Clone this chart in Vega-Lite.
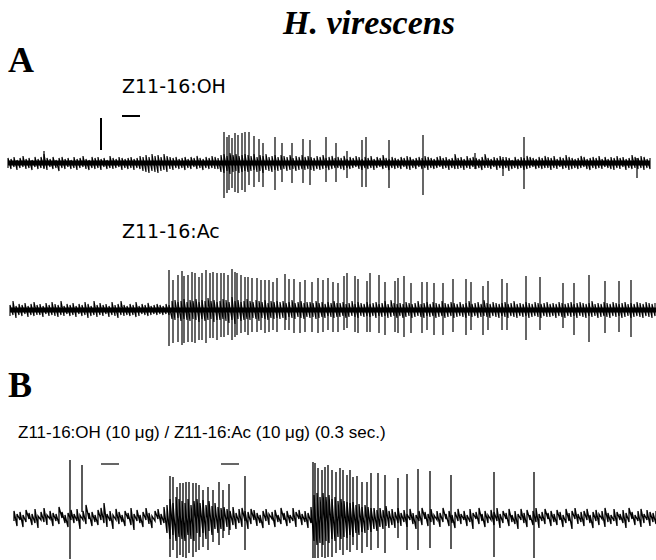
{
"$schema": "https://vega.github.io/schema/vega-lite/v6.json",
"background": "white",
"padding": 0,
"spacing": 0,
"config": {"view": {"stroke": null}, "concat": {"spacing": 0}},
"datasets": {
"a1n": [
{"t":0,"lo":-5,"hi":5},{"t":3,"lo":-6,"hi":4},{"t":6,"lo":-4,"hi":6},{"t":9,"lo":-7,"hi":3},{"t":12,"lo":-5,"hi":5},{"t":15,"lo":-4,"hi":7},{"t":18,"lo":-6,"hi":4},{"t":21,"lo":-5,"hi":5},{"t":24,"lo":-7,"hi":3},{"t":27,"lo":-4,"hi":6},
{"t":30,"lo":-6,"hi":4},{"t":33,"lo":-5,"hi":6},{"t":36,"lo":-5,"hi":9},{"t":39,"lo":-7,"hi":5},{"t":42,"lo":-4,"hi":4},{"t":45,"lo":-6,"hi":6},{"t":48,"lo":-5,"hi":3},{"t":51,"lo":-8,"hi":5},{"t":54,"lo":-5,"hi":6},{"t":57,"lo":-6,"hi":4},
{"t":60,"lo":-4,"hi":5},{"t":63,"lo":-6,"hi":3},{"t":66,"lo":-5,"hi":6},{"t":69,"lo":-7,"hi":4},{"t":72,"lo":-5,"hi":5},{"t":75,"lo":-4,"hi":7},{"t":78,"lo":-6,"hi":4},{"t":81,"lo":-7,"hi":3},{"t":84,"lo":-5,"hi":6},{"t":87,"lo":-6,"hi":5},
{"t":90,"lo":-5,"hi":6},{"t":93,"lo":-7,"hi":4},{"t":96,"lo":-4,"hi":5},{"t":99,"lo":-6,"hi":3},{"t":102,"lo":-5,"hi":7},{"t":105,"lo":-6,"hi":5},{"t":108,"lo":-5,"hi":4},{"t":111,"lo":-4,"hi":6},{"t":114,"lo":-7,"hi":5},{"t":117,"lo":-5,"hi":4},
{"t":120,"lo":-6,"hi":5},{"t":123,"lo":-5,"hi":6},{"t":126,"lo":-7,"hi":4},{"t":129,"lo":-5,"hi":5},{"t":132,"lo":-6,"hi":7},{"t":135,"lo":-8,"hi":6},{"t":138,"lo":-9,"hi":8},{"t":141,"lo":-10,"hi":6},{"t":144,"lo":-8,"hi":9},{"t":147,"lo":-9,"hi":7},
{"t":150,"lo":-10,"hi":8},{"t":153,"lo":-8,"hi":6},{"t":156,"lo":-7,"hi":9},{"t":159,"lo":-9,"hi":7},{"t":162,"lo":-6,"hi":6},{"t":165,"lo":-7,"hi":5},{"t":168,"lo":-5,"hi":6},{"t":171,"lo":-6,"hi":4},{"t":174,"lo":-5,"hi":5},{"t":177,"lo":-7,"hi":6},
{"t":180,"lo":-5,"hi":4},{"t":183,"lo":-6,"hi":6},{"t":186,"lo":-4,"hi":5},{"t":189,"lo":-6,"hi":7},{"t":192,"lo":-5,"hi":5},{"t":195,"lo":-7,"hi":4},{"t":198,"lo":-5,"hi":6},{"t":201,"lo":-6,"hi":5},{"t":204,"lo":-5,"hi":7},{"t":207,"lo":-6,"hi":6},
{"t":210,"lo":-6,"hi":5},{"t":213,"lo":-9,"hi":8},{"t":216,"lo":-10,"hi":9},{"t":219,"lo":-8,"hi":7},{"t":222,"lo":-11,"hi":10},{"t":225,"lo":-9,"hi":8},{"t":228,"lo":-8,"hi":9},{"t":231,"lo":-10,"hi":7},{"t":234,"lo":-9,"hi":8},{"t":237,"lo":-8,"hi":9},
{"t":240,"lo":-9,"hi":8},{"t":243,"lo":-8,"hi":7},{"t":246,"lo":-7,"hi":9},{"t":249,"lo":-9,"hi":6},{"t":252,"lo":-8,"hi":8},{"t":255,"lo":-10,"hi":7},{"t":258,"lo":-7,"hi":9},{"t":261,"lo":-8,"hi":6},{"t":264,"lo":-9,"hi":7},{"t":267,"lo":-7,"hi":8},
{"t":270,"lo":-8,"hi":6},{"t":273,"lo":-7,"hi":8},{"t":276,"lo":-6,"hi":7},{"t":279,"lo":-8,"hi":6},{"t":282,"lo":-7,"hi":8},{"t":285,"lo":-6,"hi":5},{"t":288,"lo":-8,"hi":7},{"t":291,"lo":-7,"hi":6},{"t":294,"lo":-6,"hi":8},{"t":297,"lo":-7,"hi":6},
{"t":300,"lo":-6,"hi":7},{"t":303,"lo":-7,"hi":6},{"t":306,"lo":-8,"hi":5},{"t":309,"lo":-6,"hi":7},{"t":312,"lo":-7,"hi":6},{"t":315,"lo":-6,"hi":8},{"t":318,"lo":-5,"hi":5},{"t":321,"lo":-7,"hi":6},{"t":324,"lo":-6,"hi":7},{"t":327,"lo":-5,"hi":5},
{"t":330,"lo":-5,"hi":6},{"t":333,"lo":-6,"hi":5},{"t":336,"lo":-7,"hi":7},{"t":339,"lo":-5,"hi":4},{"t":342,"lo":-6,"hi":6},{"t":345,"lo":-5,"hi":5},{"t":348,"lo":-4,"hi":7},{"t":351,"lo":-6,"hi":6},{"t":354,"lo":-7,"hi":4},{"t":357,"lo":-5,"hi":6},
{"t":360,"lo":-6,"hi":5},{"t":363,"lo":-5,"hi":7},{"t":366,"lo":-7,"hi":4},{"t":369,"lo":-5,"hi":6},{"t":372,"lo":-4,"hi":5},{"t":375,"lo":-6,"hi":8},{"t":378,"lo":-5,"hi":5},{"t":381,"lo":-7,"hi":4},{"t":384,"lo":-5,"hi":6},{"t":387,"lo":-6,"hi":5},
{"t":390,"lo":-5,"hi":4},{"t":393,"lo":-6,"hi":6},{"t":396,"lo":-4,"hi":5},{"t":399,"lo":-6,"hi":7},{"t":402,"lo":-7,"hi":6},{"t":405,"lo":-5,"hi":4},{"t":408,"lo":-6,"hi":5},{"t":411,"lo":-4,"hi":6},{"t":414,"lo":-6,"hi":5},{"t":417,"lo":-5,"hi":7},
{"t":420,"lo":-7,"hi":6},{"t":423,"lo":-5,"hi":5},{"t":426,"lo":-6,"hi":4},{"t":429,"lo":-5,"hi":6},{"t":432,"lo":-4,"hi":7},{"t":435,"lo":-6,"hi":5},{"t":438,"lo":-5,"hi":6},{"t":441,"lo":-7,"hi":4},{"t":444,"lo":-5,"hi":5},{"t":447,"lo":-6,"hi":9},
{"t":450,"lo":-6,"hi":5},{"t":453,"lo":-5,"hi":6},{"t":456,"lo":-7,"hi":4},{"t":459,"lo":-5,"hi":7},{"t":462,"lo":-6,"hi":5},{"t":465,"lo":-4,"hi":6},{"t":468,"lo":-6,"hi":5},{"t":471,"lo":-5,"hi":4},{"t":474,"lo":-7,"hi":6},{"t":477,"lo":-5,"hi":9},
{"t":480,"lo":-5,"hi":5},{"t":483,"lo":-6,"hi":4},{"t":486,"lo":-4,"hi":6},{"t":489,"lo":-7,"hi":5},{"t":492,"lo":-5,"hi":7},{"t":495,"lo":-6,"hi":4},{"t":498,"lo":-5,"hi":6},{"t":501,"lo":-8,"hi":5},{"t":504,"lo":-6,"hi":3},{"t":507,"lo":-5,"hi":6},
{"t":510,"lo":-6,"hi":4},{"t":513,"lo":-5,"hi":6},{"t":516,"lo":-7,"hi":5},{"t":519,"lo":-6,"hi":7},{"t":522,"lo":-5,"hi":6},{"t":525,"lo":-4,"hi":5},{"t":528,"lo":-6,"hi":4},{"t":531,"lo":-5,"hi":6},{"t":534,"lo":-6,"hi":5},{"t":537,"lo":-5,"hi":7},
{"t":540,"lo":-5,"hi":6},{"t":543,"lo":-7,"hi":5},{"t":546,"lo":-5,"hi":7},{"t":549,"lo":-6,"hi":4},{"t":552,"lo":-4,"hi":6},{"t":555,"lo":-6,"hi":5},{"t":558,"lo":-5,"hi":8},{"t":561,"lo":-7,"hi":6},{"t":564,"lo":-6,"hi":5},{"t":567,"lo":-5,"hi":4},
{"t":570,"lo":-6,"hi":5},{"t":573,"lo":-5,"hi":7},{"t":576,"lo":-4,"hi":6},{"t":579,"lo":-6,"hi":4},{"t":582,"lo":-7,"hi":5},{"t":585,"lo":-5,"hi":6},{"t":588,"lo":-6,"hi":5},{"t":591,"lo":-5,"hi":7},{"t":594,"lo":-6,"hi":4},{"t":597,"lo":-4,"hi":6},
{"t":600,"lo":-5,"hi":4},{"t":603,"lo":-6,"hi":6},{"t":606,"lo":-7,"hi":5},{"t":609,"lo":-5,"hi":7},{"t":612,"lo":-6,"hi":5},{"t":615,"lo":-4,"hi":6},{"t":618,"lo":-7,"hi":4},{"t":621,"lo":-5,"hi":5},{"t":624,"lo":-6,"hi":8},{"t":627,"lo":-5,"hi":6},
{"t":630,"lo":-6,"hi":5},{"t":633,"lo":-5,"hi":7},{"t":636,"lo":-7,"hi":6},{"t":639,"lo":-5,"hi":4},{"t":642,"lo":-6,"hi":5}
],
"a1s": [
{"t":36,"lo":-6,"hi":12},{"t":216,"lo":-35,"hi":31},{"t":219,"lo":-30,"hi":26},{"t":221,"lo":-27,"hi":28},{"t":224,"lo":-25,"hi":25},{"t":227,"lo":-29,"hi":30},{"t":230,"lo":-30,"hi":28},{"t":234,"lo":-27,"hi":30},{"t":237,"lo":-29,"hi":31},{"t":241,"lo":-22,"hi":31},{"t":246,"lo":-24,"hi":27},{"t":251,"lo":-19,"hi":24},{"t":255,"lo":-24,"hi":20},{"t":267,"lo":-27,"hi":26},{"t":274,"lo":-19,"hi":20},{"t":284,"lo":-20,"hi":20},{"t":295,"lo":-20,"hi":24},{"t":302,"lo":-22,"hi":23},{"t":318,"lo":-19,"hi":26},{"t":328,"lo":-19,"hi":20},{"t":339,"lo":-15,"hi":12},{"t":354,"lo":-24,"hi":23},{"t":358,"lo":-24,"hi":26},{"t":381,"lo":-25,"hi":23},{"t":415,"lo":-32,"hi":28},{"t":467,"lo":-6,"hi":10},{"t":495,"lo":-13,"hi":6},{"t":516,"lo":-26,"hi":26},{"t":629,"lo":-15,"hi":5}
],
"a2n": [
{"t":2,"lo":-6,"hi":5},{"t":5,"lo":-5,"hi":9},{"t":8,"lo":-8,"hi":4},{"t":11,"lo":-5,"hi":6},{"t":14,"lo":-6,"hi":5},{"t":17,"lo":-4,"hi":7},{"t":20,"lo":-7,"hi":4},{"t":23,"lo":-5,"hi":6},{"t":26,"lo":-6,"hi":8},{"t":29,"lo":-5,"hi":5},
{"t":32,"lo":-5,"hi":6},{"t":35,"lo":-7,"hi":4},{"t":38,"lo":-4,"hi":7},{"t":41,"lo":-6,"hi":5},{"t":44,"lo":-5,"hi":8},{"t":47,"lo":-6,"hi":6},{"t":50,"lo":-7,"hi":5},{"t":53,"lo":-5,"hi":9},{"t":56,"lo":-6,"hi":4},{"t":59,"lo":-4,"hi":6},
{"t":62,"lo":-6,"hi":5},{"t":65,"lo":-5,"hi":7},{"t":68,"lo":-7,"hi":4},{"t":71,"lo":-4,"hi":6},{"t":74,"lo":-6,"hi":5},{"t":77,"lo":-5,"hi":8},{"t":80,"lo":-8,"hi":6},{"t":83,"lo":-6,"hi":4},{"t":86,"lo":-5,"hi":9},{"t":89,"lo":-7,"hi":5},
{"t":92,"lo":-5,"hi":7},{"t":95,"lo":-6,"hi":5},{"t":98,"lo":-4,"hi":6},{"t":101,"lo":-7,"hi":4},{"t":104,"lo":-5,"hi":8},{"t":107,"lo":-6,"hi":5},{"t":110,"lo":-8,"hi":6},{"t":113,"lo":-5,"hi":9},{"t":116,"lo":-6,"hi":5},{"t":119,"lo":-5,"hi":4},
{"t":122,"lo":-6,"hi":6},{"t":125,"lo":-5,"hi":5},{"t":128,"lo":-7,"hi":8},{"t":131,"lo":-6,"hi":4},{"t":134,"lo":-4,"hi":6},{"t":137,"lo":-5,"hi":5},{"t":140,"lo":-6,"hi":7},{"t":143,"lo":-5,"hi":4},{"t":146,"lo":-4,"hi":5},{"t":149,"lo":-5,"hi":6},
{"t":152,"lo":-4,"hi":5},{"t":155,"lo":-5,"hi":4},{"t":158,"lo":-4,"hi":6},{"t":161,"lo":-5,"hi":5},{"t":164,"lo":-9,"hi":9},{"t":167,"lo":-10,"hi":10},{"t":170,"lo":-8,"hi":8},{"t":173,"lo":-11,"hi":9},{"t":176,"lo":-9,"hi":11},{"t":179,"lo":-10,"hi":8},
{"t":182,"lo":-11,"hi":10},{"t":185,"lo":-9,"hi":9},{"t":188,"lo":-10,"hi":11},{"t":191,"lo":-12,"hi":8},{"t":194,"lo":-9,"hi":10},{"t":197,"lo":-11,"hi":9},{"t":200,"lo":-10,"hi":12},{"t":203,"lo":-9,"hi":9},{"t":206,"lo":-12,"hi":10},{"t":209,"lo":-10,"hi":8},
{"t":212,"lo":-10,"hi":9},{"t":215,"lo":-9,"hi":11},{"t":218,"lo":-11,"hi":10},{"t":221,"lo":-13,"hi":8},{"t":224,"lo":-10,"hi":13},{"t":227,"lo":-14,"hi":9},{"t":230,"lo":-9,"hi":10},{"t":233,"lo":-11,"hi":8},{"t":236,"lo":-10,"hi":9},{"t":239,"lo":-9,"hi":11},
{"t":242,"lo":-10,"hi":9},{"t":245,"lo":-8,"hi":8},{"t":248,"lo":-9,"hi":10},{"t":251,"lo":-11,"hi":9},{"t":254,"lo":-8,"hi":8},{"t":257,"lo":-9,"hi":10},{"t":260,"lo":-10,"hi":7},{"t":263,"lo":-8,"hi":9},{"t":266,"lo":-9,"hi":8},{"t":269,"lo":-8,"hi":9},
{"t":272,"lo":-9,"hi":8},{"t":275,"lo":-8,"hi":9},{"t":278,"lo":-10,"hi":7},{"t":281,"lo":-7,"hi":8},{"t":284,"lo":-8,"hi":10},{"t":287,"lo":-9,"hi":7},{"t":290,"lo":-7,"hi":8},{"t":293,"lo":-8,"hi":9},{"t":296,"lo":-9,"hi":7},{"t":299,"lo":-7,"hi":8},
{"t":302,"lo":-8,"hi":8},{"t":305,"lo":-7,"hi":7},{"t":308,"lo":-9,"hi":9},{"t":311,"lo":-8,"hi":7},{"t":314,"lo":-7,"hi":8},{"t":317,"lo":-8,"hi":6},{"t":320,"lo":-6,"hi":8},{"t":323,"lo":-7,"hi":7},{"t":326,"lo":-8,"hi":9},{"t":329,"lo":-7,"hi":7},
{"t":332,"lo":-7,"hi":7},{"t":335,"lo":-6,"hi":8},{"t":338,"lo":-8,"hi":6},{"t":341,"lo":-7,"hi":7},{"t":344,"lo":-6,"hi":9},{"t":347,"lo":-7,"hi":6},{"t":350,"lo":-8,"hi":8},{"t":353,"lo":-6,"hi":7},{"t":356,"lo":-7,"hi":6},{"t":359,"lo":-6,"hi":8},
{"t":362,"lo":-7,"hi":6},{"t":365,"lo":-6,"hi":7},{"t":368,"lo":-8,"hi":8},{"t":371,"lo":-6,"hi":6},{"t":374,"lo":-7,"hi":7},{"t":377,"lo":-6,"hi":9},{"t":380,"lo":-8,"hi":6},{"t":383,"lo":-7,"hi":10},{"t":386,"lo":-6,"hi":7},{"t":389,"lo":-8,"hi":6},
{"t":392,"lo":-6,"hi":7},{"t":395,"lo":-8,"hi":6},{"t":398,"lo":-7,"hi":8},{"t":401,"lo":-6,"hi":7},{"t":404,"lo":-8,"hi":6},{"t":407,"lo":-7,"hi":7},{"t":410,"lo":-6,"hi":9},{"t":413,"lo":-7,"hi":6},{"t":416,"lo":-8,"hi":7},{"t":419,"lo":-6,"hi":8},
{"t":422,"lo":-7,"hi":6},{"t":425,"lo":-6,"hi":8},{"t":428,"lo":-8,"hi":7},{"t":431,"lo":-7,"hi":6},{"t":434,"lo":-6,"hi":9},{"t":437,"lo":-8,"hi":7},{"t":440,"lo":-7,"hi":6},{"t":443,"lo":-6,"hi":8},{"t":446,"lo":-8,"hi":7},{"t":449,"lo":-7,"hi":6},
{"t":452,"lo":-6,"hi":8},{"t":455,"lo":-7,"hi":6},{"t":458,"lo":-8,"hi":7},{"t":461,"lo":-6,"hi":9},{"t":464,"lo":-7,"hi":6},{"t":467,"lo":-6,"hi":7},{"t":470,"lo":-8,"hi":8},{"t":473,"lo":-7,"hi":6},{"t":476,"lo":-6,"hi":10},{"t":479,"lo":-7,"hi":7},
{"t":482,"lo":-8,"hi":6},{"t":485,"lo":-6,"hi":8},{"t":488,"lo":-7,"hi":7},{"t":491,"lo":-8,"hi":6},{"t":494,"lo":-6,"hi":7},{"t":497,"lo":-7,"hi":8},{"t":500,"lo":-8,"hi":6},{"t":503,"lo":-6,"hi":7},{"t":506,"lo":-7,"hi":9},{"t":509,"lo":-8,"hi":6},
{"t":512,"lo":-6,"hi":7},{"t":515,"lo":-7,"hi":6},{"t":518,"lo":-6,"hi":8},{"t":521,"lo":-8,"hi":7},{"t":524,"lo":-7,"hi":6},{"t":527,"lo":-6,"hi":8},{"t":530,"lo":-7,"hi":7},{"t":533,"lo":-8,"hi":6},{"t":536,"lo":-6,"hi":7},{"t":539,"lo":-7,"hi":8},
{"t":542,"lo":-7,"hi":6},{"t":545,"lo":-6,"hi":7},{"t":548,"lo":-8,"hi":6},{"t":551,"lo":-6,"hi":8},{"t":554,"lo":-7,"hi":7},{"t":557,"lo":-8,"hi":6},{"t":560,"lo":-6,"hi":7},{"t":563,"lo":-7,"hi":8},{"t":566,"lo":-6,"hi":6},{"t":569,"lo":-8,"hi":7},
{"t":572,"lo":-6,"hi":8},{"t":575,"lo":-7,"hi":7},{"t":578,"lo":-8,"hi":6},{"t":581,"lo":-6,"hi":7},{"t":584,"lo":-7,"hi":9},{"t":587,"lo":-6,"hi":6},{"t":590,"lo":-8,"hi":7},{"t":593,"lo":-7,"hi":6},{"t":596,"lo":-6,"hi":8},{"t":599,"lo":-7,"hi":7},
{"t":602,"lo":-8,"hi":6},{"t":605,"lo":-6,"hi":8},{"t":608,"lo":-7,"hi":7},{"t":611,"lo":-6,"hi":6},{"t":614,"lo":-8,"hi":7},{"t":617,"lo":-7,"hi":8},{"t":620,"lo":-6,"hi":6},{"t":623,"lo":-8,"hi":7},{"t":626,"lo":-7,"hi":6},{"t":629,"lo":-6,"hi":8},
{"t":632,"lo":-7,"hi":7},{"t":635,"lo":-8,"hi":6},{"t":638,"lo":-6,"hi":8},{"t":641,"lo":-7,"hi":7},{"t":644,"lo":-8,"hi":6},{"t":647,"lo":-6,"hi":7}
],
"a2s": [
{"t":161,"lo":-36,"hi":40},{"t":165,"lo":-33,"hi":30},{"t":170,"lo":-32,"hi":35},{"t":174,"lo":-35,"hi":39},{"t":176,"lo":-33,"hi":34},{"t":180,"lo":-32,"hi":35},{"t":184,"lo":-32,"hi":38},{"t":187,"lo":-33,"hi":37},{"t":191,"lo":-30,"hi":33},{"t":194,"lo":-30,"hi":37},{"t":198,"lo":-33,"hi":40},{"t":202,"lo":-28,"hi":37},{"t":205,"lo":-28,"hi":38},{"t":209,"lo":-30,"hi":37},{"t":213,"lo":-27,"hi":37},{"t":216,"lo":-27,"hi":37},{"t":220,"lo":-25,"hi":35},{"t":224,"lo":-30,"hi":41},{"t":227,"lo":-27,"hi":38},{"t":229,"lo":-25,"hi":37},{"t":233,"lo":-23,"hi":35},{"t":237,"lo":-22,"hi":33},{"t":240,"lo":-25,"hi":33},{"t":244,"lo":-22,"hi":32},{"t":249,"lo":-22,"hi":32},{"t":253,"lo":-20,"hi":30},{"t":257,"lo":-23,"hi":30},{"t":261,"lo":-22,"hi":30},{"t":265,"lo":-20,"hi":28},{"t":269,"lo":-22,"hi":32},{"t":277,"lo":-20,"hi":36},{"t":281,"lo":-20,"hi":31},{"t":286,"lo":-23,"hi":31},{"t":292,"lo":-23,"hi":28},{"t":297,"lo":-22,"hi":30},{"t":304,"lo":-22,"hi":28},{"t":310,"lo":-23,"hi":32},{"t":315,"lo":-22,"hi":30},{"t":320,"lo":-20,"hi":32},
{"t":325,"lo":-22,"hi":28},{"t":330,"lo":-22,"hi":27},{"t":336,"lo":-20,"hi":34},{"t":339,"lo":-18,"hi":37},{"t":347,"lo":-22,"hi":34},{"t":350,"lo":-23,"hi":31},{"t":359,"lo":-22,"hi":29},{"t":362,"lo":-22,"hi":37},{"t":371,"lo":-23,"hi":35},{"t":377,"lo":-25,"hi":28},{"t":387,"lo":-22,"hi":29},{"t":390,"lo":-23,"hi":32},{"t":396,"lo":-27,"hi":34},{"t":403,"lo":-23,"hi":27},{"t":414,"lo":-23,"hi":28},{"t":419,"lo":-20,"hi":28},{"t":426,"lo":-25,"hi":27},{"t":435,"lo":-25,"hi":27},{"t":445,"lo":-22,"hi":31},{"t":458,"lo":-25,"hi":31},{"t":463,"lo":-20,"hi":28},{"t":475,"lo":-25,"hi":24},{"t":480,"lo":-20,"hi":29},{"t":494,"lo":-20,"hi":31},{"t":499,"lo":-20,"hi":27},{"t":518,"lo":-30,"hi":34},{"t":532,"lo":-20,"hi":33},{"t":555,"lo":-18,"hi":27},{"t":566,"lo":-25,"hi":27},{"t":581,"lo":-32,"hi":35},{"t":597,"lo":-23,"hi":29},{"t":611,"lo":-22,"hi":29},{"t":623,"lo":-27,"hi":30}
],
"bn": [
{"t":6,"lo":-4,"hi":6},{"t":9,"lo":-9,"hi":3},{"t":12,"lo":-3,"hi":5},{"t":15,"lo":-10,"hi":2},{"t":18,"lo":-5,"hi":7},{"t":21,"lo":-2,"hi":4},{"t":24,"lo":-8,"hi":3},{"t":27,"lo":-6,"hi":8},{"t":30,"lo":-11,"hi":1},{"t":33,"lo":-3,"hi":5},
{"t":36,"lo":-5,"hi":9},{"t":39,"lo":-8,"hi":2},{"t":42,"lo":-2,"hi":6},{"t":45,"lo":-9,"hi":4},{"t":48,"lo":-4,"hi":3},{"t":51,"lo":-7,"hi":10},{"t":54,"lo":-1,"hi":5},{"t":57,"lo":-6,"hi":2},{"t":60,"lo":-10,"hi":4},{"t":63,"lo":-3,"hi":7},
{"t":66,"lo":-6,"hi":3},{"t":69,"lo":-4,"hi":8},{"t":72,"lo":-12,"hi":2},{"t":75,"lo":-3,"hi":6},{"t":78,"lo":-7,"hi":12},{"t":81,"lo":-2,"hi":4},{"t":84,"lo":-9,"hi":5},{"t":87,"lo":-5,"hi":2},{"t":90,"lo":-8,"hi":7},{"t":93,"lo":-3,"hi":9},
{"t":96,"lo":-6,"hi":14},{"t":99,"lo":-10,"hi":3},{"t":102,"lo":-4,"hi":6},{"t":105,"lo":-12,"hi":2},{"t":108,"lo":-3,"hi":8},{"t":111,"lo":-7,"hi":5},{"t":114,"lo":-5,"hi":2},{"t":117,"lo":-9,"hi":6},{"t":120,"lo":-2,"hi":4},{"t":123,"lo":-8,"hi":9},
{"t":126,"lo":-13,"hi":3},{"t":129,"lo":-4,"hi":7},{"t":132,"lo":-6,"hi":2},{"t":135,"lo":-10,"hi":5},{"t":138,"lo":-3,"hi":9},{"t":141,"lo":-7,"hi":4},{"t":144,"lo":-11,"hi":1},{"t":147,"lo":-4,"hi":6},{"t":150,"lo":-2,"hi":8},{"t":153,"lo":-8,"hi":3},
{"t":156,"lo":-6,"hi":10},{"t":159,"lo":-16,"hi":12},{"t":162,"lo":-22,"hi":18},{"t":165,"lo":-18,"hi":14},{"t":168,"lo":-24,"hi":20},{"t":171,"lo":-20,"hi":18},{"t":174,"lo":-22,"hi":16},{"t":177,"lo":-24,"hi":14},{"t":180,"lo":-18,"hi":18},{"t":183,"lo":-22,"hi":12},
{"t":186,"lo":-24,"hi":16},{"t":189,"lo":-16,"hi":18},{"t":192,"lo":-20,"hi":14},{"t":195,"lo":-16,"hi":17},{"t":198,"lo":-22,"hi":12},{"t":201,"lo":-14,"hi":16},{"t":204,"lo":-18,"hi":11},{"t":207,"lo":-12,"hi":14},{"t":210,"lo":-16,"hi":10},{"t":213,"lo":-12,"hi":9},
{"t":216,"lo":-14,"hi":10},{"t":219,"lo":-10,"hi":8},{"t":222,"lo":-13,"hi":6},{"t":225,"lo":-8,"hi":10},{"t":228,"lo":-12,"hi":4},{"t":231,"lo":-6,"hi":8},{"t":234,"lo":-10,"hi":9},{"t":237,"lo":-4,"hi":6},{"t":240,"lo":-12,"hi":5},{"t":243,"lo":-7,"hi":8},
{"t":246,"lo":-3,"hi":7},{"t":249,"lo":-9,"hi":4},{"t":252,"lo":-6,"hi":2},{"t":255,"lo":-11,"hi":6},{"t":258,"lo":-4,"hi":8},{"t":261,"lo":-8,"hi":3},{"t":264,"lo":-2,"hi":5},{"t":267,"lo":-10,"hi":7},{"t":270,"lo":-5,"hi":2},{"t":273,"lo":-7,"hi":9},
{"t":276,"lo":-3,"hi":4},{"t":279,"lo":-9,"hi":6},{"t":282,"lo":-6,"hi":2},{"t":285,"lo":-4,"hi":9},{"t":288,"lo":-10,"hi":5},{"t":291,"lo":-2,"hi":7},{"t":294,"lo":-8,"hi":3},{"t":297,"lo":-5,"hi":6},{"t":300,"lo":-11,"hi":4},{"t":303,"lo":-6,"hi":10},
{"t":306,"lo":-24,"hi":22},{"t":309,"lo":-28,"hi":24},{"t":312,"lo":-26,"hi":20},{"t":315,"lo":-28,"hi":24},{"t":318,"lo":-24,"hi":20},{"t":321,"lo":-26,"hi":22},{"t":324,"lo":-22,"hi":18},{"t":327,"lo":-24,"hi":20},{"t":330,"lo":-20,"hi":16},{"t":333,"lo":-22,"hi":18},
{"t":336,"lo":-20,"hi":16},{"t":339,"lo":-21,"hi":15},{"t":342,"lo":-18,"hi":14},{"t":345,"lo":-20,"hi":15},{"t":348,"lo":-16,"hi":12},{"t":351,"lo":-18,"hi":13},{"t":354,"lo":-15,"hi":10},{"t":357,"lo":-16,"hi":12},{"t":360,"lo":-13,"hi":10},{"t":363,"lo":-15,"hi":9},
{"t":366,"lo":-12,"hi":9},{"t":369,"lo":-14,"hi":7},{"t":372,"lo":-10,"hi":9},{"t":375,"lo":-12,"hi":7},{"t":378,"lo":-9,"hi":11},{"t":381,"lo":-11,"hi":6},{"t":384,"lo":-8,"hi":8},{"t":387,"lo":-11,"hi":5},{"t":390,"lo":-6,"hi":9},{"t":393,"lo":-9,"hi":4},
{"t":396,"lo":-5,"hi":7},{"t":399,"lo":-10,"hi":3},{"t":402,"lo":-3,"hi":8},{"t":405,"lo":-7,"hi":4},{"t":408,"lo":-12,"hi":2},{"t":411,"lo":-4,"hi":6},{"t":414,"lo":-8,"hi":9},{"t":417,"lo":-2,"hi":5},{"t":420,"lo":-9,"hi":3},{"t":423,"lo":-5,"hi":8},
{"t":426,"lo":-8,"hi":2},{"t":429,"lo":-3,"hi":6},{"t":432,"lo":-10,"hi":4},{"t":435,"lo":-5,"hi":9},{"t":438,"lo":-2,"hi":3},{"t":441,"lo":-9,"hi":6},{"t":444,"lo":-6,"hi":2},{"t":447,"lo":-11,"hi":5},{"t":450,"lo":-4,"hi":8},{"t":453,"lo":-7,"hi":3},
{"t":456,"lo":-3,"hi":6},{"t":459,"lo":-9,"hi":2},{"t":462,"lo":-5,"hi":8},{"t":465,"lo":-12,"hi":4},{"t":468,"lo":-2,"hi":5},{"t":471,"lo":-7,"hi":9},{"t":474,"lo":-4,"hi":3},{"t":477,"lo":-10,"hi":6},{"t":480,"lo":-6,"hi":2},{"t":483,"lo":-3,"hi":7},
{"t":486,"lo":-8,"hi":5},{"t":489,"lo":-4,"hi":9},{"t":492,"lo":-11,"hi":3},{"t":495,"lo":-6,"hi":6},{"t":498,"lo":-2,"hi":4},{"t":501,"lo":-9,"hi":8},{"t":504,"lo":-5,"hi":2},{"t":507,"lo":-7,"hi":6},{"t":510,"lo":-12,"hi":3},{"t":513,"lo":-3,"hi":8},
{"t":516,"lo":-6,"hi":4},{"t":519,"lo":-10,"hi":7},{"t":522,"lo":-3,"hi":2},{"t":525,"lo":-8,"hi":6},{"t":528,"lo":-5,"hi":9},{"t":531,"lo":-11,"hi":3},{"t":534,"lo":-4,"hi":5},{"t":537,"lo":-7,"hi":8},{"t":540,"lo":-2,"hi":4},{"t":543,"lo":-9,"hi":6},
{"t":546,"lo":-5,"hi":3},{"t":549,"lo":-8,"hi":7},{"t":552,"lo":-3,"hi":5},{"t":555,"lo":-10,"hi":2},{"t":558,"lo":-6,"hi":8},{"t":561,"lo":-4,"hi":4},{"t":564,"lo":-12,"hi":6},{"t":567,"lo":-2,"hi":9},{"t":570,"lo":-7,"hi":3},{"t":573,"lo":-5,"hi":5},
{"t":576,"lo":-9,"hi":6},{"t":579,"lo":-3,"hi":8},{"t":582,"lo":-6,"hi":2},{"t":585,"lo":-11,"hi":5},{"t":588,"lo":-4,"hi":7},{"t":591,"lo":-8,"hi":3},{"t":594,"lo":-2,"hi":6},{"t":597,"lo":-10,"hi":9},{"t":600,"lo":-5,"hi":4},{"t":603,"lo":-7,"hi":2},
{"t":606,"lo":-4,"hi":8},{"t":609,"lo":-9,"hi":5},{"t":612,"lo":-3,"hi":3},{"t":615,"lo":-6,"hi":7},{"t":618,"lo":-11,"hi":4},{"t":621,"lo":-5,"hi":9},{"t":624,"lo":-2,"hi":5},{"t":627,"lo":-8,"hi":2},{"t":630,"lo":-4,"hi":6},{"t":633,"lo":-10,"hi":8},
{"t":636,"lo":-6,"hi":3},{"t":639,"lo":-3,"hi":7},{"t":642,"lo":-9,"hi":5},{"t":645,"lo":-5,"hi":4},{"t":648,"lo":-7,"hi":6}
],
"bs": [
{"t":62,"lo":-42,"hi":57},{"t":74,"lo":5,"hi":52},{"t":162,"lo":-40,"hi":41},{"t":165,"lo":-33,"hi":40},{"t":169,"lo":-41,"hi":30},{"t":172,"lo":-38,"hi":34},{"t":175,"lo":-40,"hi":34},{"t":178,"lo":-41,"hi":35},{"t":181,"lo":-36,"hi":35},{"t":185,"lo":-40,"hi":34},{"t":188,"lo":-35,"hi":34},{"t":191,"lo":-33,"hi":32},{"t":195,"lo":-30,"hi":27},{"t":200,"lo":-33,"hi":30},{"t":205,"lo":-25,"hi":27},{"t":211,"lo":-28,"hi":35},{"t":215,"lo":-21,"hi":27},{"t":221,"lo":-18,"hi":33},{"t":237,"lo":-33,"hi":41},
{"t":305,"lo":-41,"hi":55},{"t":307,"lo":-41,"hi":54},{"t":310,"lo":-41,"hi":49},{"t":314,"lo":-40,"hi":47},{"t":317,"lo":-41,"hi":50},{"t":320,"lo":-40,"hi":52},{"t":324,"lo":-40,"hi":47},{"t":328,"lo":-36,"hi":45},{"t":332,"lo":-33,"hi":49},{"t":335,"lo":-38,"hi":47},{"t":339,"lo":-33,"hi":42},{"t":342,"lo":-35,"hi":47},{"t":345,"lo":-28,"hi":40},{"t":349,"lo":-33,"hi":41},{"t":354,"lo":-36,"hi":35},{"t":359,"lo":-30,"hi":35},{"t":363,"lo":-33,"hi":44},{"t":370,"lo":-31,"hi":44},{"t":377,"lo":-36,"hi":42},{"t":390,"lo":-21,"hi":39},{"t":399,"lo":-33,"hi":43},{"t":410,"lo":-33,"hi":48},{"t":422,"lo":-31,"hi":46},{"t":443,"lo":-32,"hi":42},{"t":486,"lo":-40,"hi":45},{"t":526,"lo":-41,"hi":45}
]
},
"vconcat": [
{
"width": 656, "height": 220,
"layer": [
{"data": {"values": [{}]}, "mark": {"type": "rule", "strokeWidth": 5, "color": "black"},
 "encoding": {"x": {"datum": 0, "type": "quantitative", "scale": {"domain": [-8, 648], "nice": false, "zero": false}, "axis": null}, "x2": {"datum": 642}, "y": {"datum": 0, "type": "quantitative", "scale": {"domain": [-57, 163], "nice": false, "zero": false}, "axis": null}}},
{"data": {"name": "a1n"}, "transform": [{"fold": ["lo", "hi"], "as": ["k", "v"]}], "mark": {"type": "line", "strokeWidth": 1.1, "color": "black"},
 "encoding": {"x": {"field": "t", "type": "quantitative", "scale": {"domain": [-8, 648], "nice": false, "zero": false}, "axis": null},
  "y": {"field": "v", "type": "quantitative", "scale": {"domain": [-57, 163], "nice": false, "zero": false}, "axis": null}, "order": {"value": null}}},
{"data": {"name": "a1s"}, "mark": {"type": "rule", "strokeWidth": 1.2, "color": "black"},
 "encoding": {"x": {"field": "t", "type": "quantitative", "scale": {"domain": [-8, 648], "nice": false, "zero": false}, "axis": null},
  "y": {"field": "lo", "type": "quantitative", "scale": {"domain": [-57, 163], "nice": false, "zero": false}, "axis": null}, "y2": {"field": "hi"}}},
{"data": {"values": [{}]}, "mark": {"type": "rule", "strokeWidth": 2, "color": "black"},
 "encoding": {"x": {"datum": 93, "type": "quantitative"}, "y": {"datum": 13, "type": "quantitative"}, "y2": {"datum": 45}}},
{"data": {"values": [{}]}, "mark": {"type": "rule", "strokeWidth": 2, "color": "black"},
 "encoding": {"x": {"datum": 114, "type": "quantitative"}, "x2": {"datum": 132}, "y": {"datum": 47, "type": "quantitative"}}},
{"data": {"values": [{}]}, "mark": {"type": "text", "font": "Liberation Serif", "fontStyle": "italic", "fontWeight": "bold", "fontSize": 34, "align": "center", "baseline": "alphabetic", "color": "black"},
 "encoding": {"x": {"datum": 361, "type": "quantitative"}, "y": {"datum": 129, "type": "quantitative"}, "text": {"value": "H. virescens"}}},
{"data": {"values": [{}]}, "mark": {"type": "text", "font": "Liberation Serif", "fontWeight": "bold", "fontSize": 36, "align": "left", "baseline": "alphabetic", "color": "black"},
 "encoding": {"x": {"datum": 0, "type": "quantitative"}, "y": {"datum": 91, "type": "quantitative"}, "text": {"value": "A"}}},
{"data": {"values": [{}]}, "mark": {"type": "text", "font": "DejaVu Sans", "fontSize": 19, "align": "left", "baseline": "alphabetic", "color": "black"},
 "encoding": {"x": {"datum": 114, "type": "quantitative"}, "y": {"datum": 70, "type": "quantitative"}, "text": {"value": "Z11-16:OH"}}}
]
},
{
"width": 656, "height": 140,
"layer": [
{"data": {"values": [{}]}, "mark": {"type": "rule", "strokeWidth": 5, "color": "black"},
 "encoding": {"x": {"datum": 2, "type": "quantitative", "scale": {"domain": [-8, 648], "nice": false, "zero": false}, "axis": null}, "x2": {"datum": 648}, "y": {"datum": 0, "type": "quantitative", "scale": {"domain": [-50, 90], "nice": false, "zero": false}, "axis": null}}},
{"data": {"name": "a2n"}, "transform": [{"fold": ["lo", "hi"], "as": ["k", "v"]}], "mark": {"type": "line", "strokeWidth": 1.1, "color": "black"},
 "encoding": {"x": {"field": "t", "type": "quantitative", "scale": {"domain": [-8, 648], "nice": false, "zero": false}, "axis": null},
  "y": {"field": "v", "type": "quantitative", "scale": {"domain": [-50, 90], "nice": false, "zero": false}, "axis": null}, "order": {"value": null}}},
{"data": {"name": "a2s"}, "mark": {"type": "rule", "strokeWidth": 1.2, "color": "black"},
 "encoding": {"x": {"field": "t", "type": "quantitative", "scale": {"domain": [-8, 648], "nice": false, "zero": false}, "axis": null},
  "y": {"field": "lo", "type": "quantitative", "scale": {"domain": [-50, 90], "nice": false, "zero": false}, "axis": null}, "y2": {"field": "hi"}}},
{"data": {"values": [{}]}, "mark": {"type": "text", "font": "DejaVu Sans", "fontSize": 19, "align": "left", "baseline": "alphabetic", "color": "black"},
 "encoding": {"x": {"datum": 114, "type": "quantitative"}, "y": {"datum": 72, "type": "quantitative"}, "text": {"value": "Z11-16:Ac"}}}
]
},
{
"width": 656, "height": 200,
"layer": [
{"data": {"name": "bn"}, "transform": [{"fold": ["lo", "hi"], "as": ["k", "v"]}], "mark": {"type": "line", "strokeWidth": 1.3, "color": "black"},
 "encoding": {"x": {"field": "t", "type": "quantitative", "scale": {"domain": [-8, 648], "nice": false, "zero": false}, "axis": null},
  "y": {"field": "v", "type": "quantitative", "scale": {"domain": [-43, 157], "nice": false, "zero": false}, "axis": null}, "order": {"value": null}}},
{"data": {"name": "bs"}, "mark": {"type": "rule", "strokeWidth": 1.3, "color": "black"},
 "encoding": {"x": {"field": "t", "type": "quantitative", "scale": {"domain": [-8, 648], "nice": false, "zero": false}, "axis": null},
  "y": {"field": "lo", "type": "quantitative", "scale": {"domain": [-43, 157], "nice": false, "zero": false}, "axis": null}, "y2": {"field": "hi"}}},
{"data": {"values": [{"a": 93, "b": 111}, {"a": 213, "b": 231}]}, "mark": {"type": "rule", "strokeWidth": 1.5, "color": "#333"},
 "encoding": {"x": {"field": "a", "type": "quantitative"}, "x2": {"field": "b"}, "y": {"datum": 53, "type": "quantitative"}}},
{"data": {"values": [{}]}, "mark": {"type": "text", "font": "Liberation Serif", "fontWeight": "bold", "fontSize": 36, "align": "left", "baseline": "alphabetic", "color": "black"},
 "encoding": {"x": {"datum": 0, "type": "quantitative"}, "y": {"datum": 120, "type": "quantitative"}, "text": {"value": "B"}}},
{"data": {"values": [{}]}, "mark": {"type": "text", "font": "Liberation Sans", "fontSize": 17, "align": "left", "baseline": "alphabetic", "color": "black"},
 "encoding": {"x": {"datum": 10, "type": "quantitative"}, "y": {"datum": 79, "type": "quantitative"}, "text": {"value": "Z11-16:OH (10 μg) / Z11-16:Ac (10 μg) (0.3 sec.)"}}}
]
}
]
}
